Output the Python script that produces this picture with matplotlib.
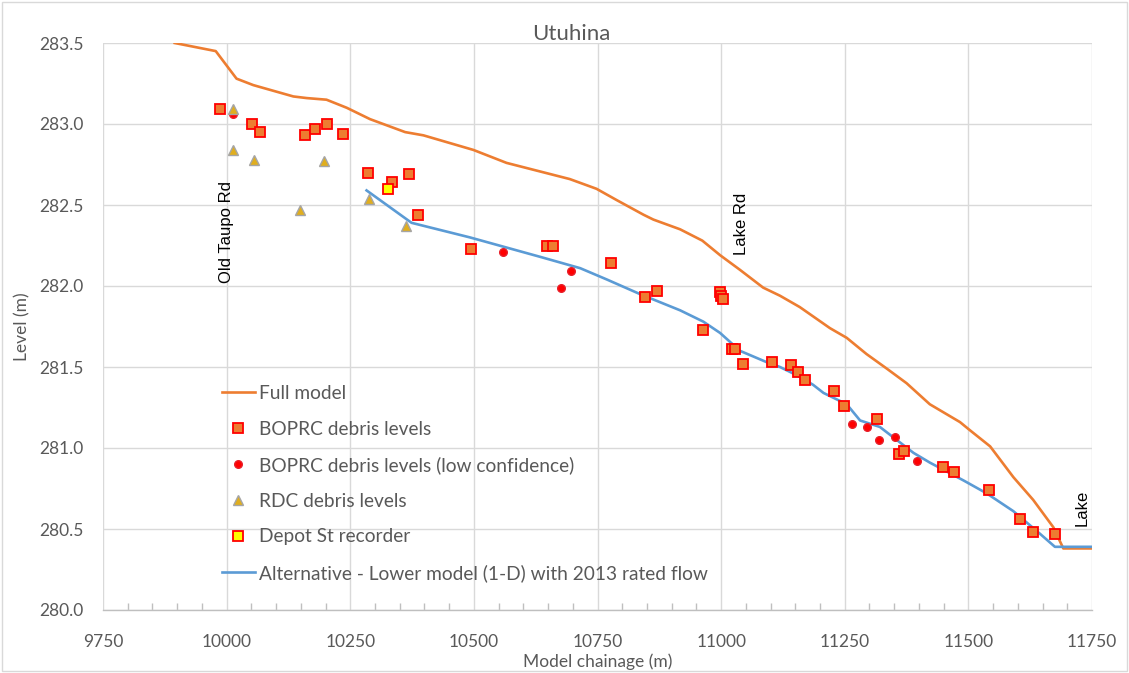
import matplotlib
matplotlib.use("Agg")
import matplotlib.pyplot as plt
from matplotlib.patches import Rectangle
from matplotlib.ticker import MultipleLocator, FormatStrFormatter

# ---------------- data ----------------
full_x = [9895, 9978, 10020, 10054, 10135, 10162, 10202, 10243, 10290, 10361, 10398,
          10499, 10566, 10694, 10748, 10789, 10843, 10863, 10917, 10962, 10998, 11038,
          11085, 11119, 11159, 11220, 11254, 11294, 11335, 11375, 11422, 11483, 11503,
          11544, 11591, 11631, 11672, 11692, 11750]
full_y = [283.50, 283.45, 283.28, 283.24, 283.17, 283.16, 283.15, 283.10, 283.03, 282.95, 282.93,
          282.84, 282.76, 282.66, 282.60, 282.53, 282.44, 282.41, 282.35, 282.28, 282.19, 282.10,
          281.99, 281.94, 281.87, 281.74, 281.68, 281.58, 281.49, 281.40, 281.27, 281.16, 281.11,
          281.01, 280.82, 280.68, 280.51, 280.38, 280.38]

alt_x = [10283, 10374, 10492, 10634, 10715, 10769, 10836, 10917, 10964, 10998, 11038,
         11092, 11119, 11159, 11186, 11207, 11254, 11281, 11321, 11389, 11422, 11490,
         11537, 11591, 11645, 11675, 11750]
alt_y = [282.59, 282.39, 282.30, 282.18, 282.11, 282.04, 281.95, 281.85, 281.78, 281.71, 281.60,
         281.53, 281.50, 281.44, 281.39, 281.34, 281.27, 281.17, 281.13, 280.97, 280.91, 280.80,
         280.72, 280.61, 280.47, 280.39, 280.39]

boprc_x = [9986, 10052, 10067, 10159, 10179, 10202, 10236, 10285, 10335, 10368, 10386,
           10495, 10648, 10660, 10778, 10846, 10871, 10963, 10998, 10999, 11003, 11021,
           11029, 11045, 11102, 11141, 11156, 11169, 11228, 11248, 11316, 11360, 11370,
           11449, 11471, 11542, 11604, 11631, 11676]
boprc_y = [283.09, 283.00, 282.95, 282.93, 282.97, 283.00, 282.94, 282.70, 282.64, 282.69, 282.44,
           282.23, 282.25, 282.25, 282.14, 281.93, 281.97, 281.73, 281.96, 281.94, 281.92, 281.61,
           281.61, 281.52, 281.53, 281.51, 281.47, 281.42, 281.35, 281.26, 281.18, 280.96, 280.98,
           280.88, 280.85, 280.74, 280.56, 280.48, 280.47]

low_x = [10013, 10559, 10677, 10696, 11264, 11294, 11319, 11352, 11397]
low_y = [283.06, 282.21, 281.99, 282.09, 281.15, 281.13, 281.05, 281.07, 280.92]

rdc_x = [10013, 10013, 10055, 10148, 10197, 10287, 10363]
rdc_y = [283.09, 282.84, 282.78, 282.47, 282.77, 282.54, 282.37]

depot_x = [10327]
depot_y = [282.60]

annot_text = ["Old Taupo Rd", "Lake Rd", "Lake"]
annot_x = [10000, 11042, 11731]
annot_y = [282.02, 282.19, 280.52]

x_ticks = [9750, 10000, 10250, 10500, 10750, 11000, 11250, 11500, 11750]

# ---------------- figure ----------------
plt.rcParams['font.family'] = ['Lato', 'DejaVu Sans']
fig = plt.figure(figsize=(11.29, 6.73), dpi=100)
ax = fig.add_axes([103/1129, 1-610/673, (1092-103)/1129, (610-43)/673])

txt = '#595959'
grid_c = '#D9D9D9'

ax.plot(full_x, full_y, color='#ED7D31', lw=1.9, label='Full model', zorder=3)
ax.plot(boprc_x, boprc_y, ls='none', marker='s', ms=7, mfc='#ED7D31', mec='#FF0000',
        mew=1.3, label='BOPRC debris levels', zorder=4)
ax.plot(low_x, low_y, ls='none', marker='o', ms=5.5, mfc='#FF0000', mec='#E8202A',
        mew=1.0, label='BOPRC debris levels (low confidence)', zorder=4)
ax.plot(rdc_x, rdc_y, ls='none', marker='^', ms=7.5, mfc='#E0AE1E', mec='#A5A5A5',
        mew=1.0, label='RDC debris levels', zorder=4)
ax.plot(depot_x, depot_y, ls='none', marker='s', ms=7, mfc='#FFFF00', mec='#FF0000',
        mew=1.3, label='Depot St recorder', zorder=5)
ax.plot(alt_x, alt_y, color='#5B9BD5', lw=1.9,
        label='Alternative - Lower model (1-D) with 2013 rated flow', zorder=3)

for t, xx, yy in zip(annot_text, annot_x, annot_y):
    ax.text(xx, yy, t, rotation=90, ha='center', va='bottom', fontsize=12,
            family=['Liberation Sans', 'DejaVu Sans'], color='black', zorder=6)

ax.set_xlim(9750, 11750)
ax.set_ylim(280.0, 283.5)
ax.set_xticks(x_ticks)
ax.xaxis.set_minor_locator(MultipleLocator(50))
ax.yaxis.set_major_locator(MultipleLocator(0.5))
ax.yaxis.set_major_formatter(FormatStrFormatter('%.1f'))

ax.grid(True, which='major', color=grid_c, lw=1.0, zorder=0)
ax.set_axisbelow(True)
for s in ['top', 'right', 'left']:
    ax.spines[s].set_visible(False)
ax.spines['bottom'].set_color('#BFBFBF')
ax.spines['bottom'].set_linewidth(1.0)

ax.tick_params(axis='both', which='major', length=0, labelsize=12.5, labelcolor=txt)
ax.tick_params(axis='y', which='major', pad=14)
ax.tick_params(axis='x', which='minor', direction='in', length=5, color='#BFBFBF', width=1.0)
ax.tick_params(axis='x', which='major', pad=17)

ax.set_xlabel('Model chainage (m)', fontsize=12.5, color=txt, labelpad=3)
ax.set_ylabel('Level (m)', fontsize=12.5, color=txt, labelpad=6)
fig.text(571/1129, 1-44/673, 'Utuhina', fontsize=16, color=txt, ha='center', va='bottom')

leg = ax.legend(loc='upper left', bbox_to_anchor=(222/1129, 1-385/673),
                bbox_transform=fig.transFigure, frameon=False, fontsize=13.8,
                handlelength=1.72, handletextpad=0.2, labelspacing=0.97,
                borderpad=0, borderaxespad=0, numpoints=1)
for t in leg.get_texts():
    t.set_color(txt)

fig.patches.append(Rectangle((0.002, 0.003), 0.996, 0.994, transform=fig.transFigure,
                             fill=False, edgecolor='#D9D9D9', lw=1.0))

fig.savefig('out.png', dpi=100)
